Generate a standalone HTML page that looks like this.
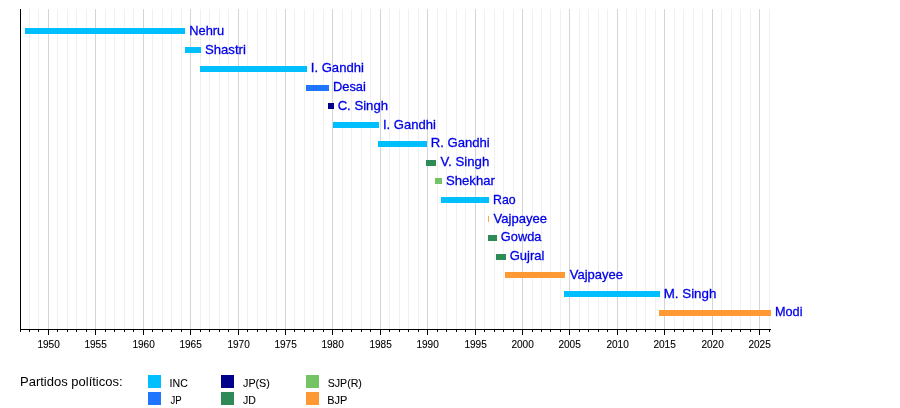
<!DOCTYPE html>
<html><head><meta charset="utf-8"><title>Timeline</title>
<style>
html,body{margin:0;padding:0;background:#fff;}
svg{display:block;}
text{font-family:"Liberation Sans",sans-serif;}
.l{font-size:13.3px;fill:#0000e8;stroke:#0000e8;stroke-width:0.3px;}
.y{font-size:10.5px;fill:#000;stroke:#000;stroke-width:0.1px;text-anchor:middle;}
.g{font-size:10.5px;fill:#000;stroke:#000;stroke-width:0.08px;}
.t{font-size:13px;fill:#000;}
</style></head><body>
<svg width="900" height="408" viewBox="0 0 900 408">
<rect width="900" height="408" fill="#fff"/>
<g shape-rendering="crispEdges">
<rect x="29" y="9" width="1" height="320" fill="#f0f0f0"/>
<rect x="38" y="9" width="1" height="320" fill="#f0f0f0"/>
<rect x="48" y="9" width="1" height="320" fill="#d4d4d4"/>
<rect x="57" y="9" width="1" height="320" fill="#f0f0f0"/>
<rect x="67" y="9" width="1" height="320" fill="#f0f0f0"/>
<rect x="76" y="9" width="1" height="320" fill="#f0f0f0"/>
<rect x="86" y="9" width="1" height="320" fill="#f0f0f0"/>
<rect x="95" y="9" width="1" height="320" fill="#d4d4d4"/>
<rect x="105" y="9" width="1" height="320" fill="#f0f0f0"/>
<rect x="114" y="9" width="1" height="320" fill="#f0f0f0"/>
<rect x="124" y="9" width="1" height="320" fill="#f0f0f0"/>
<rect x="133" y="9" width="1" height="320" fill="#f0f0f0"/>
<rect x="143" y="9" width="1" height="320" fill="#d4d4d4"/>
<rect x="152" y="9" width="1" height="320" fill="#f0f0f0"/>
<rect x="162" y="9" width="1" height="320" fill="#f0f0f0"/>
<rect x="171" y="9" width="1" height="320" fill="#f0f0f0"/>
<rect x="181" y="9" width="1" height="320" fill="#f0f0f0"/>
<rect x="190" y="9" width="1" height="320" fill="#d4d4d4"/>
<rect x="200" y="9" width="1" height="320" fill="#f0f0f0"/>
<rect x="209" y="9" width="1" height="320" fill="#f0f0f0"/>
<rect x="219" y="9" width="1" height="320" fill="#f0f0f0"/>
<rect x="228" y="9" width="1" height="320" fill="#f0f0f0"/>
<rect x="238" y="9" width="1" height="320" fill="#d4d4d4"/>
<rect x="247" y="9" width="1" height="320" fill="#f0f0f0"/>
<rect x="257" y="9" width="1" height="320" fill="#f0f0f0"/>
<rect x="266" y="9" width="1" height="320" fill="#f0f0f0"/>
<rect x="276" y="9" width="1" height="320" fill="#f0f0f0"/>
<rect x="285" y="9" width="1" height="320" fill="#d4d4d4"/>
<rect x="294" y="9" width="1" height="320" fill="#f0f0f0"/>
<rect x="304" y="9" width="1" height="320" fill="#f0f0f0"/>
<rect x="313" y="9" width="1" height="320" fill="#f0f0f0"/>
<rect x="323" y="9" width="1" height="320" fill="#f0f0f0"/>
<rect x="332" y="9" width="1" height="320" fill="#d4d4d4"/>
<rect x="342" y="9" width="1" height="320" fill="#f0f0f0"/>
<rect x="351" y="9" width="1" height="320" fill="#f0f0f0"/>
<rect x="361" y="9" width="1" height="320" fill="#f0f0f0"/>
<rect x="370" y="9" width="1" height="320" fill="#f0f0f0"/>
<rect x="380" y="9" width="1" height="320" fill="#d4d4d4"/>
<rect x="389" y="9" width="1" height="320" fill="#f0f0f0"/>
<rect x="399" y="9" width="1" height="320" fill="#f0f0f0"/>
<rect x="408" y="9" width="1" height="320" fill="#f0f0f0"/>
<rect x="418" y="9" width="1" height="320" fill="#f0f0f0"/>
<rect x="427" y="9" width="1" height="320" fill="#d4d4d4"/>
<rect x="437" y="9" width="1" height="320" fill="#f0f0f0"/>
<rect x="446" y="9" width="1" height="320" fill="#f0f0f0"/>
<rect x="456" y="9" width="1" height="320" fill="#f0f0f0"/>
<rect x="465" y="9" width="1" height="320" fill="#f0f0f0"/>
<rect x="475" y="9" width="1" height="320" fill="#d4d4d4"/>
<rect x="484" y="9" width="1" height="320" fill="#f0f0f0"/>
<rect x="494" y="9" width="1" height="320" fill="#f0f0f0"/>
<rect x="503" y="9" width="1" height="320" fill="#f0f0f0"/>
<rect x="513" y="9" width="1" height="320" fill="#f0f0f0"/>
<rect x="522" y="9" width="1" height="320" fill="#d4d4d4"/>
<rect x="532" y="9" width="1" height="320" fill="#f0f0f0"/>
<rect x="541" y="9" width="1" height="320" fill="#f0f0f0"/>
<rect x="550" y="9" width="1" height="320" fill="#f0f0f0"/>
<rect x="560" y="9" width="1" height="320" fill="#f0f0f0"/>
<rect x="569" y="9" width="1" height="320" fill="#d4d4d4"/>
<rect x="579" y="9" width="1" height="320" fill="#f0f0f0"/>
<rect x="588" y="9" width="1" height="320" fill="#f0f0f0"/>
<rect x="598" y="9" width="1" height="320" fill="#f0f0f0"/>
<rect x="607" y="9" width="1" height="320" fill="#f0f0f0"/>
<rect x="617" y="9" width="1" height="320" fill="#d4d4d4"/>
<rect x="626" y="9" width="1" height="320" fill="#f0f0f0"/>
<rect x="636" y="9" width="1" height="320" fill="#f0f0f0"/>
<rect x="645" y="9" width="1" height="320" fill="#f0f0f0"/>
<rect x="655" y="9" width="1" height="320" fill="#f0f0f0"/>
<rect x="664" y="9" width="1" height="320" fill="#d4d4d4"/>
<rect x="674" y="9" width="1" height="320" fill="#f0f0f0"/>
<rect x="683" y="9" width="1" height="320" fill="#f0f0f0"/>
<rect x="693" y="9" width="1" height="320" fill="#f0f0f0"/>
<rect x="702" y="9" width="1" height="320" fill="#f0f0f0"/>
<rect x="712" y="9" width="1" height="320" fill="#d4d4d4"/>
<rect x="721" y="9" width="1" height="320" fill="#f0f0f0"/>
<rect x="731" y="9" width="1" height="320" fill="#f0f0f0"/>
<rect x="740" y="9" width="1" height="320" fill="#f0f0f0"/>
<rect x="750" y="9" width="1" height="320" fill="#f0f0f0"/>
<rect x="759" y="9" width="1" height="320" fill="#d4d4d4"/>
<rect x="769" y="9" width="1" height="320" fill="#f0f0f0"/>
<rect x="25" y="28" width="160" height="6" fill="#00bfff"/>
<rect x="185" y="47" width="16" height="6" fill="#00bfff"/>
<rect x="200" y="66" width="107" height="6" fill="#00bfff"/>
<rect x="306" y="85" width="23" height="6" fill="#1f75fe"/>
<rect x="328" y="103" width="6" height="6" fill="#00008b"/>
<rect x="333" y="122" width="46" height="6" fill="#00bfff"/>
<rect x="378" y="141" width="49" height="6" fill="#00bfff"/>
<rect x="426" y="160" width="10" height="6" fill="#2e8b57"/>
<rect x="435" y="178" width="7" height="6" fill="#74c365"/>
<rect x="441" y="197" width="48" height="6" fill="#00bfff"/>
<rect x="488" y="216" width="1" height="6" fill="#ffa64d"/>
<rect x="488" y="235" width="9" height="6" fill="#2e8b57"/>
<rect x="496" y="254" width="10" height="6" fill="#2e8b57"/>
<rect x="505" y="272" width="60" height="6" fill="#ff9933"/>
<rect x="564" y="291" width="96" height="6" fill="#00bfff"/>
<rect x="659" y="310" width="112" height="6" fill="#ff9933"/>
<rect x="20" y="9" width="1" height="323" fill="#000"/>
<rect x="20" y="329" width="751" height="1" fill="#000"/>
<rect x="29" y="329" width="1" height="3" fill="#000"/>
<rect x="38" y="329" width="1" height="3" fill="#000"/>
<rect x="48" y="329" width="1" height="6" fill="#000"/>
<rect x="57" y="329" width="1" height="3" fill="#000"/>
<rect x="67" y="329" width="1" height="3" fill="#000"/>
<rect x="76" y="329" width="1" height="3" fill="#000"/>
<rect x="86" y="329" width="1" height="3" fill="#000"/>
<rect x="95" y="329" width="1" height="6" fill="#000"/>
<rect x="105" y="329" width="1" height="3" fill="#000"/>
<rect x="114" y="329" width="1" height="3" fill="#000"/>
<rect x="124" y="329" width="1" height="3" fill="#000"/>
<rect x="133" y="329" width="1" height="3" fill="#000"/>
<rect x="143" y="329" width="1" height="6" fill="#000"/>
<rect x="152" y="329" width="1" height="3" fill="#000"/>
<rect x="162" y="329" width="1" height="3" fill="#000"/>
<rect x="171" y="329" width="1" height="3" fill="#000"/>
<rect x="181" y="329" width="1" height="3" fill="#000"/>
<rect x="190" y="329" width="1" height="6" fill="#000"/>
<rect x="200" y="329" width="1" height="3" fill="#000"/>
<rect x="209" y="329" width="1" height="3" fill="#000"/>
<rect x="219" y="329" width="1" height="3" fill="#000"/>
<rect x="228" y="329" width="1" height="3" fill="#000"/>
<rect x="238" y="329" width="1" height="6" fill="#000"/>
<rect x="247" y="329" width="1" height="3" fill="#000"/>
<rect x="257" y="329" width="1" height="3" fill="#000"/>
<rect x="266" y="329" width="1" height="3" fill="#000"/>
<rect x="276" y="329" width="1" height="3" fill="#000"/>
<rect x="285" y="329" width="1" height="6" fill="#000"/>
<rect x="294" y="329" width="1" height="3" fill="#000"/>
<rect x="304" y="329" width="1" height="3" fill="#000"/>
<rect x="313" y="329" width="1" height="3" fill="#000"/>
<rect x="323" y="329" width="1" height="3" fill="#000"/>
<rect x="332" y="329" width="1" height="6" fill="#000"/>
<rect x="342" y="329" width="1" height="3" fill="#000"/>
<rect x="351" y="329" width="1" height="3" fill="#000"/>
<rect x="361" y="329" width="1" height="3" fill="#000"/>
<rect x="370" y="329" width="1" height="3" fill="#000"/>
<rect x="380" y="329" width="1" height="6" fill="#000"/>
<rect x="389" y="329" width="1" height="3" fill="#000"/>
<rect x="399" y="329" width="1" height="3" fill="#000"/>
<rect x="408" y="329" width="1" height="3" fill="#000"/>
<rect x="418" y="329" width="1" height="3" fill="#000"/>
<rect x="427" y="329" width="1" height="6" fill="#000"/>
<rect x="437" y="329" width="1" height="3" fill="#000"/>
<rect x="446" y="329" width="1" height="3" fill="#000"/>
<rect x="456" y="329" width="1" height="3" fill="#000"/>
<rect x="465" y="329" width="1" height="3" fill="#000"/>
<rect x="475" y="329" width="1" height="6" fill="#000"/>
<rect x="484" y="329" width="1" height="3" fill="#000"/>
<rect x="494" y="329" width="1" height="3" fill="#000"/>
<rect x="503" y="329" width="1" height="3" fill="#000"/>
<rect x="513" y="329" width="1" height="3" fill="#000"/>
<rect x="522" y="329" width="1" height="6" fill="#000"/>
<rect x="532" y="329" width="1" height="3" fill="#000"/>
<rect x="541" y="329" width="1" height="3" fill="#000"/>
<rect x="550" y="329" width="1" height="3" fill="#000"/>
<rect x="560" y="329" width="1" height="3" fill="#000"/>
<rect x="569" y="329" width="1" height="6" fill="#000"/>
<rect x="579" y="329" width="1" height="3" fill="#000"/>
<rect x="588" y="329" width="1" height="3" fill="#000"/>
<rect x="598" y="329" width="1" height="3" fill="#000"/>
<rect x="607" y="329" width="1" height="3" fill="#000"/>
<rect x="617" y="329" width="1" height="6" fill="#000"/>
<rect x="626" y="329" width="1" height="3" fill="#000"/>
<rect x="636" y="329" width="1" height="3" fill="#000"/>
<rect x="645" y="329" width="1" height="3" fill="#000"/>
<rect x="655" y="329" width="1" height="3" fill="#000"/>
<rect x="664" y="329" width="1" height="6" fill="#000"/>
<rect x="674" y="329" width="1" height="3" fill="#000"/>
<rect x="683" y="329" width="1" height="3" fill="#000"/>
<rect x="693" y="329" width="1" height="3" fill="#000"/>
<rect x="702" y="329" width="1" height="3" fill="#000"/>
<rect x="712" y="329" width="1" height="6" fill="#000"/>
<rect x="721" y="329" width="1" height="3" fill="#000"/>
<rect x="731" y="329" width="1" height="3" fill="#000"/>
<rect x="740" y="329" width="1" height="3" fill="#000"/>
<rect x="750" y="329" width="1" height="3" fill="#000"/>
<rect x="759" y="329" width="1" height="6" fill="#000"/>
<rect x="769" y="329" width="1" height="3" fill="#000"/>
<rect x="148" y="375" width="13" height="13" fill="#00bfff"/>
<rect x="148" y="392" width="13" height="13" fill="#1f75fe"/>
<rect x="221" y="375" width="13" height="13" fill="#00008b"/>
<rect x="221" y="392" width="13" height="13" fill="#2e8b57"/>
<rect x="306" y="375" width="13" height="13" fill="#74c365"/>
<rect x="306" y="392" width="13" height="13" fill="#ff9933"/>
</g>
<text class="l" x="189.25" y="35" textLength="35.01" lengthAdjust="spacingAndGlyphs">Nehru</text>
<text class="l" x="205.00" y="54" textLength="40.88" lengthAdjust="spacingAndGlyphs">Shastri</text>
<text class="l" x="310.79" y="72" textLength="53.09" lengthAdjust="spacingAndGlyphs">I. Gandhi</text>
<text class="l" x="332.94" y="91" textLength="32.92" lengthAdjust="spacingAndGlyphs">Desai</text>
<text class="l" x="337.63" y="110" textLength="50.42" lengthAdjust="spacingAndGlyphs">C. Singh</text>
<text class="l" x="382.90" y="129" textLength="52.98" lengthAdjust="spacingAndGlyphs">I. Gandhi</text>
<text class="l" x="430.72" y="147" textLength="59.06" lengthAdjust="spacingAndGlyphs">R. Gandhi</text>
<text class="l" x="440.54" y="166" textLength="48.69" lengthAdjust="spacingAndGlyphs">V. Singh</text>
<text class="l" x="446.00" y="185" textLength="48.91" lengthAdjust="spacingAndGlyphs">Shekhar</text>
<text class="l" x="493.09" y="204" textLength="22.63" lengthAdjust="spacingAndGlyphs">Rao</text>
<text class="l" x="493.54" y="223" textLength="53.43" lengthAdjust="spacingAndGlyphs">Vajpayee</text>
<text class="l" x="500.86" y="241" textLength="40.54" lengthAdjust="spacingAndGlyphs">Gowda</text>
<text class="l" x="509.65" y="260" textLength="34.73" lengthAdjust="spacingAndGlyphs">Gujral</text>
<text class="l" x="569.74" y="279" textLength="53.32" lengthAdjust="spacingAndGlyphs">Vajpayee</text>
<text class="l" x="663.71" y="298" textLength="52.66" lengthAdjust="spacingAndGlyphs">M. Singh</text>
<text class="l" x="774.96" y="316" textLength="27.50" lengthAdjust="spacingAndGlyphs">Modi</text>
<text class="y" x="48.6" y="348" textLength="22.4" lengthAdjust="spacingAndGlyphs">1950</text>
<text class="y" x="95.6" y="348" textLength="22.4" lengthAdjust="spacingAndGlyphs">1955</text>
<text class="y" x="143.6" y="348" textLength="22.4" lengthAdjust="spacingAndGlyphs">1960</text>
<text class="y" x="190.6" y="348" textLength="22.4" lengthAdjust="spacingAndGlyphs">1965</text>
<text class="y" x="238.6" y="348" textLength="22.4" lengthAdjust="spacingAndGlyphs">1970</text>
<text class="y" x="285.6" y="348" textLength="22.4" lengthAdjust="spacingAndGlyphs">1975</text>
<text class="y" x="332.6" y="348" textLength="22.4" lengthAdjust="spacingAndGlyphs">1980</text>
<text class="y" x="380.6" y="348" textLength="22.4" lengthAdjust="spacingAndGlyphs">1985</text>
<text class="y" x="427.6" y="348" textLength="22.4" lengthAdjust="spacingAndGlyphs">1990</text>
<text class="y" x="475.6" y="348" textLength="22.4" lengthAdjust="spacingAndGlyphs">1995</text>
<text class="y" x="522.6" y="348" textLength="22.4" lengthAdjust="spacingAndGlyphs">2000</text>
<text class="y" x="569.6" y="348" textLength="22.4" lengthAdjust="spacingAndGlyphs">2005</text>
<text class="y" x="617.6" y="348" textLength="22.4" lengthAdjust="spacingAndGlyphs">2010</text>
<text class="y" x="664.6" y="348" textLength="22.4" lengthAdjust="spacingAndGlyphs">2015</text>
<text class="y" x="712.6" y="348" textLength="22.4" lengthAdjust="spacingAndGlyphs">2020</text>
<text class="y" x="759.6" y="348" textLength="22.4" lengthAdjust="spacingAndGlyphs">2025</text>
<text class="g" x="169.63" y="387" textLength="18.18" lengthAdjust="spacingAndGlyphs">INC</text>
<text class="g" x="170.45" y="404" textLength="11.15" lengthAdjust="spacingAndGlyphs">JP</text>
<text class="g" x="243.03" y="387" textLength="26.83" lengthAdjust="spacingAndGlyphs">JP(S)</text>
<text class="g" x="243.04" y="404" textLength="12.87" lengthAdjust="spacingAndGlyphs">JD</text>
<text class="g" x="327.72" y="387" textLength="34.14" lengthAdjust="spacingAndGlyphs">SJP(R)</text>
<text class="g" x="327.30" y="404" textLength="20.08" lengthAdjust="spacingAndGlyphs">BJP</text>
<text class="t" x="20" y="386">Partidos políticos:</text>
</svg></body></html>
